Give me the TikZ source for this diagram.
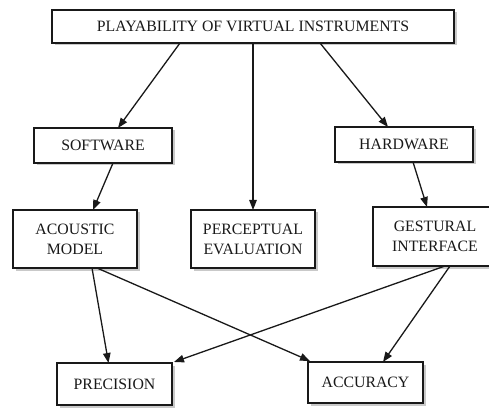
\documentclass[tikz,border=0pt]{standalone}
\usepackage{fontspec}
\setmainfont{Liberation Serif}
\usetikzlibrary{arrows.meta,shadows}
\definecolor{ink}{RGB}{25,25,25}
\tikzset{
  box/.style={draw=ink, line width=1.6pt, fill=white, inner sep=0pt, outer sep=0pt,
    align=center, text=ink, font=\fontsize{15.8}{20}\selectfont,
    drop shadow={shadow xshift=2.5pt, shadow yshift=-2.5pt, fill=gray!70, opacity=0.6}},
  conn/.style={draw=ink, line width=1.3pt, -{Triangle[length=10pt,width=7.5pt]}}
}
\begin{document}
\begin{tikzpicture}[x=1pt,y=-1pt]
\clip (0,0) rectangle (489,411);
\fill[white] (0,0) rectangle (489,411);
\node[box, minimum width=402pt, minimum height=33pt] (top) at (253,26.5) {PLAYABILITY OF VIRTUAL INSTRUMENTS};
\node[box, minimum width=138pt, minimum height=35pt] (sw) at (103,145.5) {SOFTWARE};
\node[box, minimum width=138pt, minimum height=35pt] (hw) at (404,144.5) {HARDWARE};
\node[box, minimum width=124pt, minimum height=58pt] (am) at (75,239) {ACOUSTIC\\MODEL};
\node[box, minimum width=124pt, minimum height=58pt] (pe) at (253,239) {PERCEPTUAL\\EVALUATION};
\node[box, minimum width=124pt, minimum height=59pt] (gi) at (435,236.5) {GESTURAL\\INTERFACE};
\node[box, minimum width=115pt, minimum height=42pt] (pr) at (114.5,384) {PRECISION};
\node[box, minimum width=115pt, minimum height=41pt] (ac) at (365.5,382.5) {ACCURACY};

\draw[conn] ([xshift=-73pt]top.south) -- ([xshift=15pt]sw.north);
\draw[conn] (top.south) -- (pe.north);
\draw[conn] ([xshift=67pt]top.south) -- ([xshift=-16pt]hw.north);
\draw[conn] ([xshift=10pt]sw.south) -- ([xshift=18pt]am.north);
\draw[conn] ([xshift=9pt]hw.south) -- ([xshift=-8pt]gi.north);
\draw[conn] ([xshift=17pt]am.south) -- ([xshift=-6pt]pr.north);
\draw[conn] ([xshift=22pt]am.south) -- ([xshift=2pt,yshift=1pt]ac.north west);
\draw[conn] ([xshift=10pt]gi.south) -- ([xshift=2pt,yshift=1pt]pr.north east);
\draw[conn] ([xshift=15pt]gi.south) -- ([xshift=17.5pt]ac.north);
\end{tikzpicture}
\end{document}
